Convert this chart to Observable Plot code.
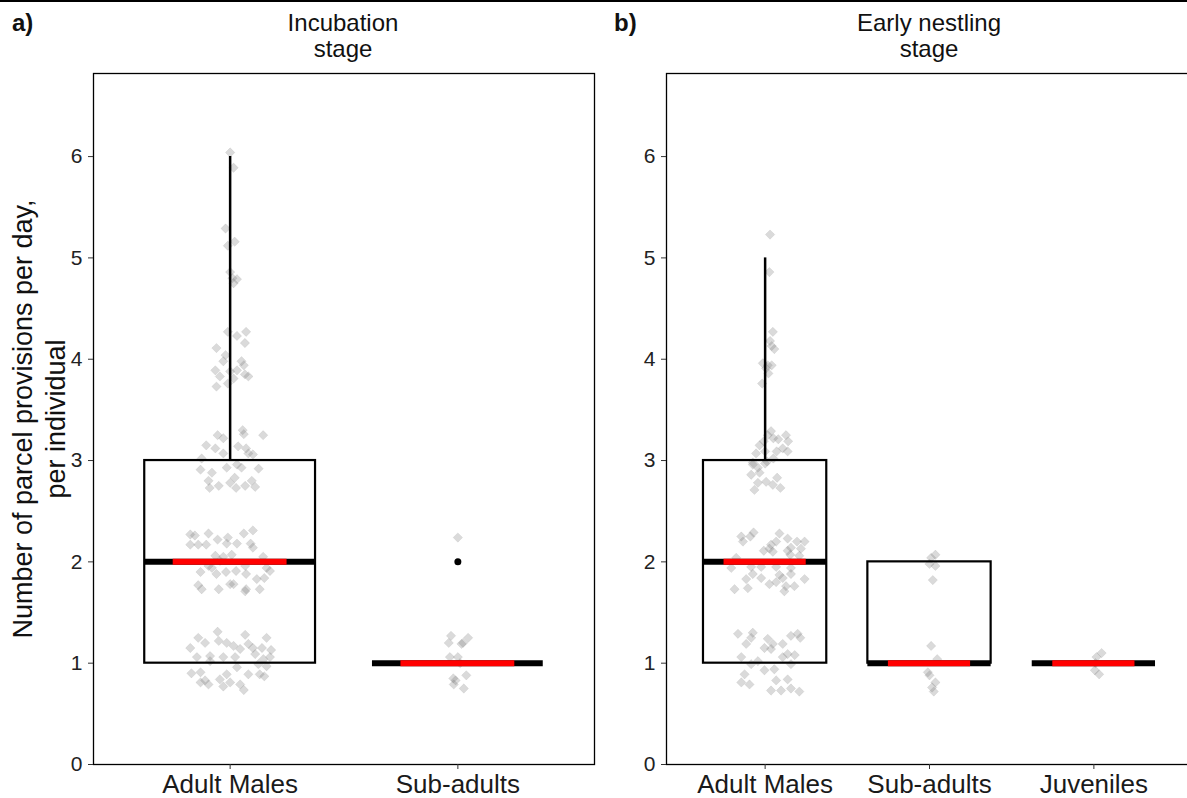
<!DOCTYPE html>
<html><head><meta charset="utf-8">
<script src="https://cdn.jsdelivr.net/npm/d3@7"></script>
<script src="https://cdn.jsdelivr.net/npm/@observablehq/plot@0.6"></script>
<style>
html,body{margin:0;padding:0;background:#fff;overflow:hidden;}
#root{position:relative;width:1187px;height:798px;overflow:hidden;font-family:"Liberation Sans",Arial,sans-serif;color:#111;}
.topline{position:absolute;left:0;top:0;width:1187px;height:2px;background:#000;}
.tag{position:absolute;font-weight:bold;font-size:24px;line-height:24px;top:11px;}
.ttl{position:absolute;font-size:24px;line-height:26px;top:10px;text-align:center;width:400px;}
.ylab{position:absolute;width:700px;height:66px;left:-310px;top:386px;font-size:27px;line-height:33px;text-align:center;transform:rotate(-90deg);transform-origin:350px 33px;white-space:nowrap;}
.pan{position:absolute;top:0;width:600px;height:798px;}
.pan svg{max-width:none !important;}
</style></head>
<body><div id="root">
<div class="topline"></div>
<div class="tag" style="left:12px">a)</div>
<div class="tag" style="left:614px">b)</div>
<div class="ttl" style="left:143px">Incubation<br>stage</div>
<div class="ttl" style="left:729px">Early nestling<br>stage</div>
<div class="ylab">Number of parcel provisions per day,<br>per individual</div>
<div id="pa" class="pan" style="left:0px"></div>
<div id="pb" class="pan" style="left:600px"></div>
</div>
<script>
// ---- data ----
const yTicks = [0, 1, 2, 3, 4, 5, 6];

const catsA = ["Adult Males", "Sub-adults"];
const q1A = [1, 1];
const medianA = [2, 1];
const q3A = [3, 1];
const whiskerMaxA = [6, 1];
const outlierCatA = [2];
const outlierValA = [2];

const catsB = ["Adult Males", "Sub-adults", "Juveniles"];
const q1B = [1, 1, 1];
const medianB = [2, 1, 1];
const q3B = [3, 2, 1];
const whiskerMaxB = [5, 2, 1];

// individual observations: [horizontal jitter (category units), value]
const ptsA_adult = [
[0.00,6.04],[0.015,5.89],[-0.02,5.29],[0.02,5.16],[-0.01,5.12],[0.00,4.86],[0.01,4.80],[0.03,4.79],[0.015,4.75],
[-0.01,4.27],[0.03,4.23],[0.07,4.27],[0.065,4.16],[-0.06,4.11],[-0.02,4.04],[-0.03,3.98],[-0.065,3.89],[-0.045,3.83],
[0.00,3.88],[0.03,3.89],[0.05,3.98],[0.06,3.94],[0.065,3.85],[0.08,3.83],[0.015,3.81],[-0.06,3.73],[-0.01,3.76],
[0.055,3.30],[0.06,3.26],[0.145,3.25],[-0.055,3.25],[-0.03,3.22],[-0.105,3.15],[-0.065,3.12],[-0.03,3.07],[0.035,3.14],
[0.07,3.12],[0.08,3.07],[0.10,3.06],[-0.125,3.02],[-0.015,2.93],[0.03,2.96],[0.05,2.93],[0.125,2.92],[-0.13,2.91],
[-0.08,2.88],[-0.095,2.80],[-0.09,2.73],[-0.05,2.75],[0.00,2.78],[0.02,2.83],[0.026,2.73],[0.066,2.75],[0.095,2.80],[0.11,2.74],
[-0.175,2.27],[-0.155,2.26],[-0.095,2.28],[0.10,2.31],[0.06,2.28],[-0.055,2.22],[-0.01,2.24],[-0.015,2.18],[0.03,2.18],
[-0.175,2.17],[-0.14,2.17],[-0.105,2.17],[0.09,2.18],[0.10,2.14],[-0.065,2.06],[-0.03,2.05],[0.007,2.07],[0.145,2.05],
[-0.045,2.01],[-0.095,1.96],[-0.08,1.94],[0.066,1.96],[0.16,1.94],[0.175,1.91],[-0.13,1.90],[-0.06,1.88],[-0.018,1.90],
[0.026,1.91],[0.07,1.88],[0.117,1.83],[0.15,1.84],[-0.14,1.77],[-0.125,1.73],[-0.05,1.73],[0.00,1.78],[0.015,1.78],
[0.07,1.73],[0.13,1.73],[0.066,1.71],
[-0.055,1.31],[-0.14,1.25],[-0.11,1.20],[-0.05,1.22],[-0.015,1.20],[0.066,1.28],[0.16,1.25],[-0.175,1.15],[0.015,1.17],
[0.044,1.14],[0.08,1.19],[0.10,1.15],[0.14,1.15],[0.18,1.13],[-0.146,1.06],[-0.088,1.07],[-0.03,1.06],[0.022,1.06],
[0.11,1.09],[0.146,1.04],[0.175,1.06],[-0.088,1.02],[0.124,0.99],[0.16,0.97],[0.03,0.96],[-0.17,0.90],[-0.13,0.91],
[-0.015,0.89],[0.08,0.89],[0.13,0.89],[0.15,0.87],[-0.13,0.81],[-0.095,0.79],[-0.045,0.84],[0.00,0.81],[0.044,0.79],
[-0.03,0.77],[0.06,0.735],[-0.11,0.83]
];
const ptsA_sub = [
[0.00,2.24],[-0.03,1.27],[0.045,1.25],[-0.04,1.20],[0.016,1.19],[0.023,1.20],[-0.035,1.06],[0.00,1.06],[0.01,1.00],
[0.037,0.88],[-0.02,0.85],[-0.01,0.83],[-0.018,0.79],[0.026,0.75]
];
const ptsB_adult = [
[0.03,5.23],[0.026,4.86],[0.047,4.27],[0.03,4.18],[0.04,4.13],[0.056,4.10],[-0.014,3.96],[0.016,3.94],[0.04,3.94],
[0.006,3.91],[0.02,3.86],[-0.018,3.76],
[0.036,3.29],[0.016,3.25],[0.127,3.25],[0.08,3.21],[0.14,3.19],[-0.008,3.19],[0.05,3.22],[0.107,3.12],[-0.034,3.15],
[-0.055,3.07],[0.00,3.09],[0.07,3.09],[0.137,3.09],[-0.075,2.98],[-0.044,2.93],[0.012,2.99],[0.05,3.02],
[-0.075,2.96],[0.00,2.97],[-0.085,2.86],[-0.034,2.88],[-0.044,2.78],[0.006,2.79],[0.073,2.83],[0.047,2.76],[0.093,2.73],[-0.065,2.71],
[-0.145,2.25],[-0.07,2.29],[-0.09,2.25],[-0.135,2.20],[0.087,2.28],[0.137,2.23],[0.194,2.20],[0.24,2.20],[0.067,2.20],
[0.036,2.17],[-0.008,2.11],[0.026,2.13],[0.047,2.10],[0.137,2.11],[0.157,2.14],[0.153,2.07],[0.218,2.13],[0.208,2.06],
[-0.176,2.04],[-0.206,1.94],[-0.085,1.95],[-0.024,1.95],[0.067,1.95],[0.157,1.94],[-0.075,1.88],[-0.024,1.84],[-0.115,1.83],
[0.087,1.87],[0.107,1.84],[0.157,1.88],[0.24,1.83],[0.026,1.78],[0.067,1.80],[0.127,1.76],[0.178,1.76],[-0.186,1.73],
[-0.105,1.74],[0.117,1.71],
[-0.165,1.29],[-0.075,1.30],[-0.085,1.25],[-0.115,1.19],[0.016,1.24],[0.047,1.19],[0.107,1.19],[0.157,1.27],[0.198,1.29],
[0.214,1.25],[-0.004,1.15],[0.036,1.14],[-0.145,1.06],[-0.044,1.02],[-0.085,0.99],[0.107,1.06],[0.137,1.09],[0.18,1.08],
[0.157,0.99],[0.056,0.94],[-0.004,0.93],[-0.125,0.89],[0.137,0.84],[-0.145,0.81],[-0.095,0.79],[0.067,0.83],[0.036,0.73],
[0.097,0.73],[0.157,0.75],[0.208,0.72]
];
const ptsB_sub = [
[0.036,2.07],[0.01,2.04],[0.00,1.98],[0.036,1.96],[0.02,1.82],[0.01,1.17],[0.047,1.04],[-0.01,0.91],[0.00,0.88],
[0.036,0.81],[0.016,0.76],[0.026,0.72]
];
const ptsB_juv = [
[0.047,1.10],[0.016,1.06],[0.01,1.00],[0.006,0.93],[0.032,0.89]
];

// ---- drawing ----
function panel(cats, q1, med, q3, wmax, groups, outCat, outVal, w, ml, mr) {
  const n = cats.length;
  const boxes = cats.map((c, i) => ({i: i + 1, q1: q1[i], med: med[i], q3: q3[i], wmax: wmax[i]}));
  const pts = groups.flatMap((g, i) => g.map(([dx, v]) => ({x: i + 1 + dx, y: v})));
  const outs = outCat.map((c, i) => ({x: c, y: outVal[i]}));
  return Plot.plot({
    width: w, height: 798,
    marginLeft: ml, marginRight: mr, marginTop: 73, marginBottom: 34,
    x: {domain: [0.4, n + 0.6]},
    y: {domain: [0, 6.82]},
    style: {fontFamily: "'Liberation Sans', Arial, sans-serif", color: "#333", background: "transparent", overflow: "visible", maxWidth: "none"},
    marks: [
      Plot.dot(pts, {x: "x", y: "y", symbol: "diamond2", r: 4.2, fill: "#7a7a7a", fillOpacity: 0.28, stroke: "#7a7a7a", strokeOpacity: 0.22, strokeWidth: 0.6}),
      Plot.ruleX(boxes, {x: "i", y1: "q3", y2: "wmax", stroke: "#000", strokeWidth: 2.5}),
      Plot.rect(boxes, {x1: d => d.i - 0.375, x2: d => d.i + 0.375, y1: "q1", y2: "q3", fill: "none", stroke: "#000", strokeWidth: 2.2}),
      Plot.ruleY(boxes, {y: "med", x1: d => d.i - 0.375, x2: d => d.i + 0.375, stroke: "#000", strokeWidth: 6}),
      Plot.ruleY(boxes, {y: "med", x1: d => d.i - 0.25, x2: d => d.i + 0.25, stroke: "#ff0000", strokeWidth: 6}),
      Plot.dot(outs, {x: "x", y: "y", r: 3.5, fill: "#000"}),
      Plot.frame({stroke: "#000", strokeWidth: 1.3}),
      Plot.axisX({ticks: d3.range(1, n + 1), tickFormat: d => cats[d - 1], tickSize: 5, tickPadding: 5, fontSize: 26, label: null, fill: "#1a1a1a"}),
      Plot.axisY({ticks: yTicks, tickFormat: d => String(d), tickSize: 5, tickPadding: 6, fontSize: 21, label: null, fill: "#222"})
    ]
  });
}

document.getElementById("pa").append(
  panel(catsA, q1A, medianA, q3A, whiskerMaxA, [ptsA_adult, ptsA_sub], outlierCatA, outlierValA, 600, 93, 6)
);
document.getElementById("pb").append(
  panel(catsB, q1B, medianB, q3B, whiskerMaxB, [ptsB_adult, ptsB_sub, ptsB_juv], [], [], 600, 66, 8)
);
</script>
</body></html>
